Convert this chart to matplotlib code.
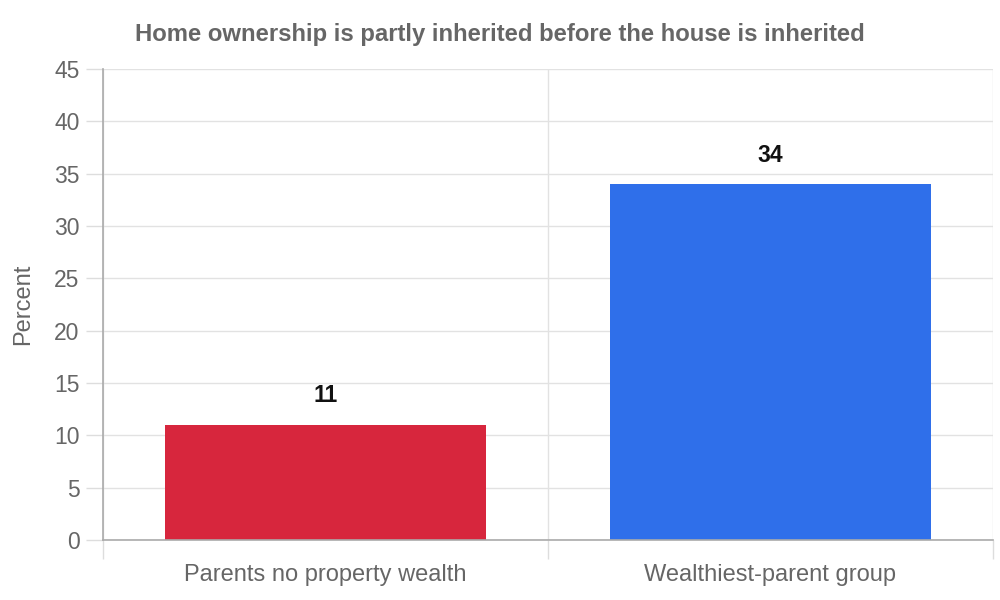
import matplotlib
matplotlib.use("Agg")
import matplotlib.pyplot as plt

plt.rcParams['font.family'] = ['Liberation Sans', 'DejaVu Sans']

categories = ["Parents no property wealth", "Wealthiest-parent group"]
values = [11, 34]
bar_colors = ["#d7263d", "#2f6fea"]
y_ticks = [0, 5, 10, 15, 20, 25, 30, 35, 40, 45]

fig = plt.figure(figsize=(10, 6), dpi=100)
ax = fig.add_axes([0.103, 0.1, 0.89, 0.785])

x = list(range(len(categories)))
ax.bar(x, values, width=0.72, color=bar_colors, zorder=3)

# value labels above the bars
for xi, v in zip(x, values):
    ax.annotate(str(v), (xi, v), xytext=(0, 29), textcoords="offset pixels",
                ha="center", va="center", fontsize=16.5, fontweight="bold",
                color="#111111")

ax.set_xlim(-0.5, len(categories) - 0.5)
ax.set_ylim(0, 45)
ax.set_yticks(y_ticks)
ax.set_xticks(x)
ax.set_xticklabels(categories)
ax.set_xticks([i - 0.5 for i in range(len(categories) + 1)], minor=True)

ax.tick_params(axis="y", length=12, width=1, color="#dddddd", pad=5,
               labelsize=16.5, labelcolor="#666666")
ax.tick_params(axis="x", which="major", length=0, pad=17,
               labelsize=17, labelcolor="#666666")
ax.tick_params(axis="x", which="minor", length=13.5, width=1, color="#dddddd")
ax.xaxis.get_minor_ticks()[0].tick1line.set_color("#aaaaaa")

ax.grid(axis="y", color="#e2e2e2", linewidth=1, zorder=0)
ax.grid(axis="x", which="minor", color="#e2e2e2", linewidth=1, zorder=0)
ax.grid(axis="x", which="major", visible=False)

for side in ["top", "right"]:
    ax.spines[side].set_visible(False)
for side in ["left", "bottom"]:
    ax.spines[side].set_color("#aaaaaa")
    ax.spines[side].set_linewidth(1.2)
    ax.spines[side].set_zorder(4)

ax.set_ylabel("Percent", fontsize=17, color="#666666", labelpad=14)

fig.suptitle("Home ownership is partly inherited before the house is inherited",
             x=0.5, y=0.943, va="center", fontsize=17.2, fontweight="bold",
             color="#666666")

fig.savefig("out.png", dpi=100)
